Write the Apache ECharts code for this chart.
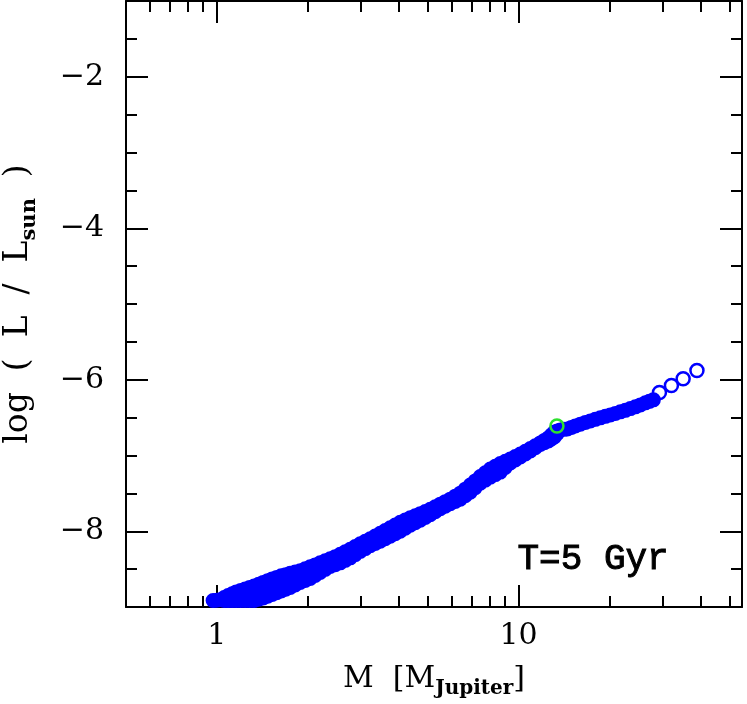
<!DOCTYPE html>
<html>
<head>
<meta charset="utf-8">
<script src="https://cdn.jsdelivr.net/npm/echarts@6/dist/echarts.min.js"></script>
<style>
html, body { margin: 0; padding: 0; background: #fff; }
#chart { width: 747px; height: 704px; }
</style>
</head>
<body>
<div id="chart"></div>
<script>
// dense part of the model band, read column by column:
// mass [M_Jupiter] of each column and the log(L/Lsun) values seen in it
var bandMass = [
    0.972, 0.999, 1.026, 1.058, 1.090, 1.124, 1.159, 1.199, 1.241, 1.284,
    1.329, 1.376, 1.424, 1.474, 1.525, 1.579, 1.634, 1.691, 1.750, 1.818,
    1.889, 1.963, 2.039, 2.118, 2.200, 2.286, 2.375, 2.468, 2.564, 2.664,
    2.767, 2.875, 2.987, 3.103, 3.224, 3.349, 3.479, 3.614, 3.755, 3.901,
    4.053, 4.211, 4.375, 4.545, 4.722, 4.906, 5.096, 5.295, 5.501, 5.714,
    5.936, 6.168, 6.408, 6.657, 6.916, 7.185, 7.464, 7.755, 8.057, 8.370,
    8.695, 9.034, 9.387, 9.751, 10.13, 10.53, 10.94, 11.36, 11.80, 12.17,
    12.55, 12.84, 13.14, 13.44, 13.75, 14.12, 14.51, 14.96, 15.42, 16.02,
    16.65, 17.29, 17.96, 18.66, 19.39, 20.14, 20.93, 21.74, 22.59, 23.47,
    24.38, 25.33, 26.31, 27.13, 27.97
];
var bandLogL = [
    [-8.914], [-8.910], [-8.905], [-8.876, -8.914], [-8.848, -8.914],
    [-8.825, -8.914], [-8.801, -8.914], [-8.782, -8.914], [-8.762, -8.834, -8.914], [-8.742, -8.834, -8.914],
    [-8.722, -8.834, -8.914], [-8.699, -8.808, -8.898], [-8.675, -8.781, -8.881], [-8.652, -8.755, -8.858], [-8.629, -8.728, -8.834],
    [-8.609, -8.709, -8.811], [-8.589, -8.689, -8.788], [-8.573, -8.669, -8.765], [-8.556, -8.649, -8.742], [-8.539, -8.623, -8.709],
    [-8.521, -8.596, -8.675], [-8.496, -8.572, -8.649], [-8.470, -8.547, -8.623], [-8.444, -8.512, -8.583], [-8.417, -8.477, -8.543],
    [-8.391, -8.503], [-8.364, -8.464], [-8.335, -8.441], [-8.305, -8.417], [-8.272, -8.384],
    [-8.238, -8.351], [-8.202, -8.308], [-8.166, -8.265], [-8.133, -8.229], [-8.099, -8.192],
    [-8.063, -8.162], [-8.026, -8.132], [-7.990, -8.099], [-7.954, -8.066], [-7.918, -8.033],
    [-7.881, -8.000], [-7.851, -7.961], [-7.821, -7.921], [-7.795, -7.888], [-7.768, -7.854],
    [-7.739, -7.818], [-7.709, -7.781], [-7.676, -7.742], [-7.642, -7.702], [-7.609, -7.669],
    [-7.576, -7.636], [-7.537, -7.606], [-7.497, -7.576], [-7.444, -7.530], [-7.391, -7.483],
    [-7.335, -7.424], [-7.278, -7.364], [-7.229, -7.325], [-7.179, -7.285], [-7.143, -7.252],
    [-7.106, -7.219], [-7.076, -7.159], [-7.046, -7.099], [-7.013, -7.060], [-6.980, -7.020],
    [-6.944, -6.980], [-6.907, -6.940], [-6.871, -6.897], [-6.834, -6.854], [-6.801, -6.831],
    [-6.768, -6.808], [-6.729, -6.781], [-6.689, -6.755], [-6.676, -6.708], [-6.662],
    [-6.655], [-6.649], [-6.629], [-6.609], [-6.586],
    [-6.563], [-6.543], [-6.523], [-6.503], [-6.483],
    [-6.464], [-6.444], [-6.424], [-6.404], [-6.381],
    [-6.358], [-6.332], [-6.305], [-6.285], [-6.265]
];
// sparse high mass models
var tailMass = [29.3, 32.1, 35.1, 39.0];
var tailLogL = [-6.168, -6.075, -5.987, -5.877];
// highlighted model (green)
var markMass = [13.4];
var markLogL = [-6.61];

// axes
var xRange = [0.5, 55];
var yRange = [-9, -1];
var xMajorTicks = [1, 10];
var xMinorTicks = [0.6, 0.7, 0.8, 0.9, 2, 3, 4, 5, 6, 7, 8, 9, 20, 30, 40, 50];
var yMajorTicks = [-8, -6, -4, -2];
var yMinorStep = 0.5;
var ageLabel = "T=5 Gyr";

var lg = function (v) { return Math.log(v) / Math.LN10; };

var bandPoints = [];
bandMass.forEach(function (m, i) {
    bandLogL[i].forEach(function (l) { bandPoints.push([lg(m), l]); });
});
var pairs = function (ms, ls) {
    return ms.map(function (m, i) { return [lg(m), ls[i]]; });
};

var chart = echarts.init(document.getElementById("chart"), null, { renderer: "canvas" });

var serif = "DejaVu Serif";
var frame = { show: true, onZero: false, lineStyle: { color: "#000", width: 2 } };
var noFrame = { show: false, onZero: false };

function xAxisOf(pos, ticks, len, labels) {
    return {
        type: "value",
        position: pos,
        min: lg(xRange[0]),
        max: lg(xRange[1]),
        axisLine: len > 15 ? frame : noFrame,
        axisTick: {
            show: true, inside: true, length: len,
            customValues: ticks.map(lg),
            lineStyle: { color: "#000", width: 2 }
        },
        axisLabel: labels ? {
            show: true, margin: 14,
            customValues: ticks.map(lg),
            formatter: function (v) { return String(Math.round(Math.pow(10, v))); },
            fontFamily: serif, fontSize: 30, color: "#000"
        } : { show: false },
        splitLine: { show: false },
        name: labels ? "{n|M  [M}{s|Jupiter}{n|]}" : "",
        nameLocation: "middle",
        nameGap: 52,
        nameTextStyle: {
            rich: {
                n: { fontFamily: serif, fontSize: 30, color: "#000", lineHeight: 40, verticalAlign: "middle" },
                s: { fontFamily: serif, fontSize: 20, fontWeight: "bold", color: "#000", lineHeight: 20, verticalAlign: "bottom" }
            }
        }
    };
}

function yAxisOf(pos, len, labels) {
    var ax = {
        type: "value",
        position: pos,
        min: yRange[0],
        max: yRange[1],
        axisLine: len > 15 ? frame : noFrame,
        axisTick: {
            show: true, inside: true, length: len,
            lineStyle: { color: "#000", width: 2 }
        },
        axisLabel: { show: false },
        splitLine: { show: false }
    };
    if (len > 15) {
        ax.axisTick.customValues = yMajorTicks;
    } else {
        ax.interval = yMinorStep;
    }
    if (labels) {
        ax.axisLabel = {
            show: true, margin: 22,
            customValues: yMajorTicks,
            formatter: function (v) { return String(v).replace("-", "\u2212"); },
            fontFamily: serif, fontSize: 30, color: "#000"
        };
        ax.name = "{n|log  (  L  /  L}{s|sun}{n|  )}";
        ax.nameLocation = "middle";
        ax.nameGap = 86;
        ax.nameRotate = 90;
        ax.nameTextStyle = {
            rich: {
                n: { fontFamily: serif, fontSize: 33, color: "#000", lineHeight: 44, verticalAlign: "middle" },
                s: { fontFamily: serif, fontSize: 21, fontWeight: "bold", color: "#000", lineHeight: 21, verticalAlign: "bottom" }
            }
        };
    }
    return ax;
}

chart.setOption({
    animation: false,
    backgroundColor: "#fff",
    grid: { left: 126, right: 5, top: 1, bottom: 97, containLabel: false, outerBoundsMode: "none" },
    xAxis: [
        xAxisOf("bottom", xMajorTicks, 22, true),
        xAxisOf("bottom", xMinorTicks, 11, false),
        xAxisOf("top", xMajorTicks, 22, false),
        xAxisOf("top", xMinorTicks, 11, false)
    ],
    yAxis: [
        yAxisOf("left", 22, true),
        yAxisOf("left", 11, false),
        yAxisOf("right", 22, false),
        yAxisOf("right", 11, false)
    ],
    graphic: [{
        type: "text",
        left: 517,
        top: 541,
        style: {
            text: ageLabel,
            font: "36px 'Liberation Mono'",
            fill: "#000",
            stroke: "#000",
            lineWidth: 1
        }
    }],
    series: [{
        name: "models",
        type: "scatter",
        data: bandPoints,
        symbol: "circle",
        symbolSize: 13,
        itemStyle: { color: "#0000ff", borderColor: "#0000ff", borderWidth: 2, opacity: 1 },
        z: 2
    }, {
        name: "models tail",
        type: "scatter",
        data: pairs(tailMass, tailLogL),
        symbol: "circle",
        symbolSize: 13,
        itemStyle: { color: "rgba(0,0,0,0)", borderColor: "#0000ff", borderWidth: 2.5, opacity: 1 },
        z: 2
    }, {
        name: "marked",
        type: "scatter",
        data: pairs(markMass, markLogL),
        symbol: "circle",
        symbolSize: 13,
        itemStyle: { color: "rgba(0,0,0,0)", borderColor: "#2ee02e", borderWidth: 2.5, opacity: 1 },
        z: 3
    }]
});
</script>
</body>
</html>
